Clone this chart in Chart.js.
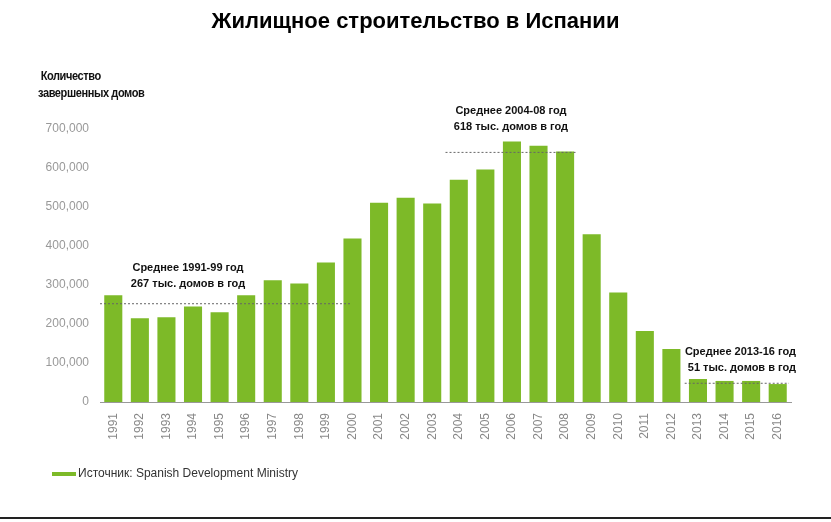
<!DOCTYPE html>
<html>
<head>
<meta charset="utf-8">
<script src="https://cdn.jsdelivr.net/npm/chart.js@4"></script>
<style>
  body { margin: 0; background: #fff; }
  #wrap { position: relative; width: 831px; height: 522px; }
  .title { position: absolute; top: 8px; left: 0; width: 831px; text-align: center;
           font: bold 22px "Liberation Sans", Arial, sans-serif; color: #000; }
  .ytitle { position: absolute; top: 67px; left: 38px; font: bold 13px "Liberation Sans", Arial, sans-serif;
            line-height: 17px; color: #111; letter-spacing: -0.5px; transform: scaleX(0.85); transform-origin: left; }
  .ytitle span { display: block; text-align: left; }
  .legend { position: absolute; top: 466px; left: 52px; font: 12px "Liberation Sans", Arial, sans-serif; color: #333; }
  .legend i { display: inline-block; width: 24px; height: 4px; background: #7dba28; vertical-align: middle; margin-right: 2px; }
  .rule { position: absolute; left: 0; top: 517px; width: 831px; height: 2px; background: #222; }
</style>
</head>
<body>
<div id="wrap">
  <canvas id="myChart"></canvas>
  <div class="title">Жилищное строительство в Испании</div>
  <div class="ytitle"><span>&nbsp;Количество</span><span>завершенных домов</span></div>
  <div class="legend"><i></i>Источник: Spanish Development Ministry</div>
  <div class="rule"></div>
</div>
<script>
const years = ['1991','1992','1993','1994','1995','1996','1997','1998','1999','2000','2001','2002','2003',
               '2004','2005','2006','2007','2008','2009','2010','2011','2012','2013','2014','2015','2016'];
const homes = [274000, 215000, 217000, 245000, 230000, 274000, 312000, 304000, 358000, 419000, 511000, 524000, 509000,
               570000, 596000, 668000, 657000, 642000, 430000, 281000, 182000, 136000, 59000, 54000, 54000, 46000];
const yTicks = [0, 100000, 200000, 300000, 400000, 500000, 600000, 700000];

// средние значения по периодам
const avgFrom = [0, 13, 22];
const avgTo = [8.5, 17, 25];
const avgLevel = [252000, 640000, 48000];
const avgLine1 = ['Среднее 1991-99 год', 'Среднее 2004-08 год', 'Среднее 2013-16 год'];
const avgLine2 = ['267 тыс. домов в год', '618 тыс. домов в год', '51 тыс. домов в год'];

const ctx = document.getElementById('myChart');
ctx.width = 831; ctx.height = 522;

const avgPlugin = {
    id: 'averages',
    afterDatasetsDraw(chart){
        const c = chart.ctx, x = chart.scales.x, y = chart.scales.y;
        const step = x.getPixelForValue(1) - x.getPixelForValue(0);
        c.save();
        for(let i = 0; i < avgLevel.length; i++){
            const x1 = x.getPixelForValue(avgFrom[i]) - step / 2;
            const x2 = x.getPixelForValue(avgTo[i]) + step / 2 - 2;
            const yy = y.getPixelForValue(avgLevel[i]);
            c.strokeStyle = '#666';
            c.lineWidth = 1;
            c.setLineDash([2, 2]);
            c.beginPath(); c.moveTo(x1, yy); c.lineTo(x2, yy); c.stroke();
            c.setLineDash([]);
            c.fillStyle = '#111';
            c.font = 'bold 11px "Liberation Sans", Arial, sans-serif';
            let cx, top;
            if(i == 0){ c.textAlign = 'center'; cx = x1 + 88; top = yy - 33; }
            else if(i == 1){ c.textAlign = 'center'; cx = (x1 + x2) / 2; top = yy - 38; }
            else { c.textAlign = 'right'; cx = x2 + 7; top = yy - 28; }
            c.fillText(avgLine1[i], cx, top);
            c.fillText(avgLine2[i], cx, top + 16);
        }
        c.restore();
    }
};

new Chart(ctx, {
    type: 'bar',
    data: {
        labels: years,
        datasets: [{
            data: homes,
            backgroundColor: '#7dba28',
            barPercentage: 0.68,
            categoryPercentage: 1
        }]
    },
    options: {
        responsive: false,
        animation: false,
        layout: { padding: { top: 129, right: 40, bottom: 78, left: 0 } },
        plugins: { legend: { display: false }, tooltip: { enabled: false } },
        scales: {
            x: {
                grid: { display: false },
                border: { color: '#999' },
                afterFit(s){ s.height = 42; },
                ticks: { minRotation: 90, maxRotation: 90, color: '#888',
                         font: { size: 12, family: '"Liberation Sans", Arial, sans-serif' } }
            },
            y: {
                min: 0, max: 700000,
                grid: { display: false },
                border: { display: false },
                afterFit(s){ s.width = 100; },
                afterBuildTicks(s){ s.ticks = yTicks.map(v => ({ value: v })); },
                ticks: { color: '#999', padding: 3,
                         font: { size: 12, family: '"Liberation Sans", Arial, sans-serif' },
                         callback: v => v.toLocaleString('en-US') }
            }
        }
    },
    plugins: [avgPlugin]
});
</script>
</body>
</html>
